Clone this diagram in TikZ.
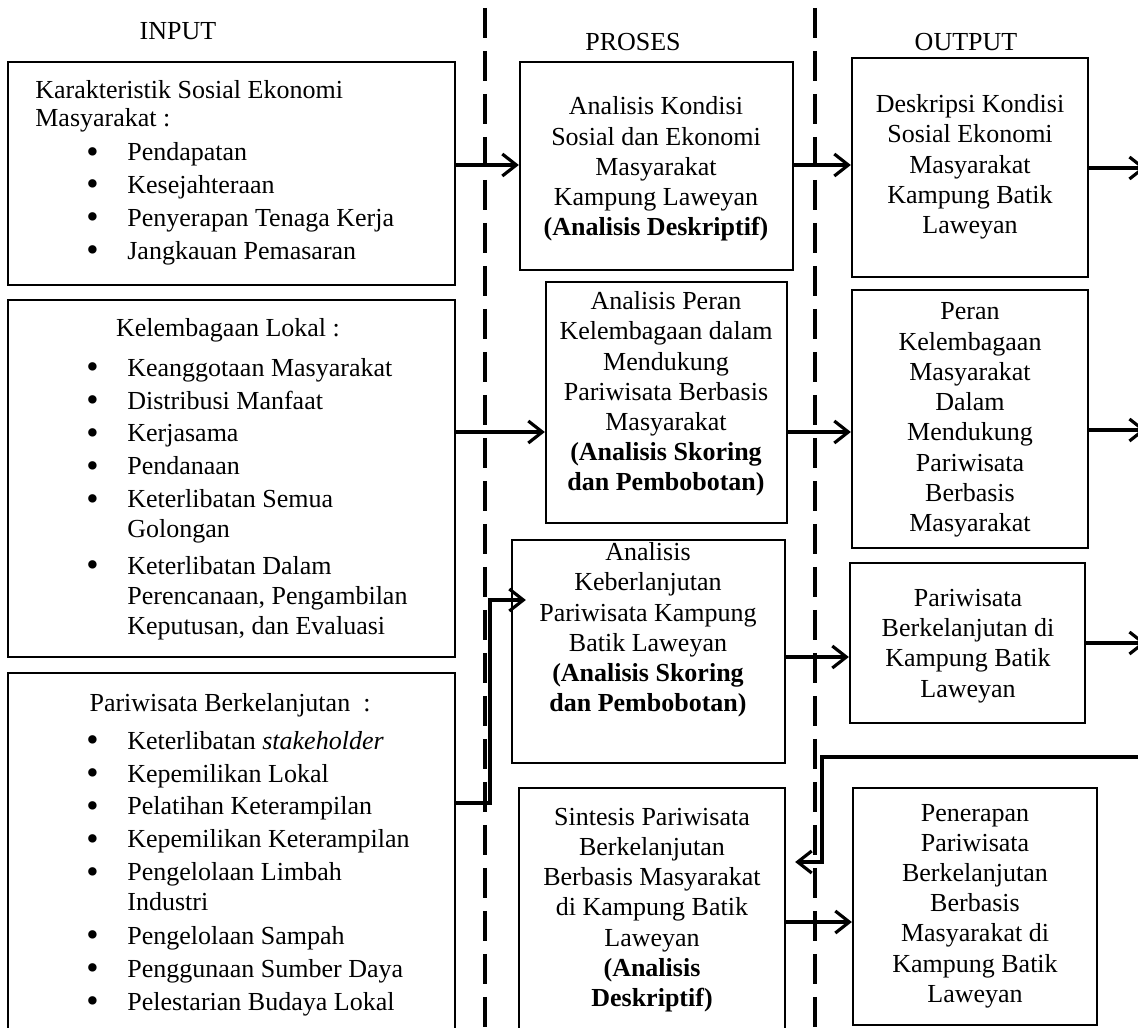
\documentclass[tikz,border=0pt]{standalone}
\usepackage{fontspec}
\setmainfont{Liberation Serif}
\usetikzlibrary{arrows.meta,fit}
\newcommand\itm[1]{\makebox[0.82cm][l]{\raisebox{-1.5pt}{\fontsize{20pt}{20pt}\selectfont\textbullet}}#1}
\newcommand\cnt[1]{\hspace*{0.82cm}#1}
\tikzset{
  >={Straight Barb[length=2.8mm,width=4.4mm]},
  box/.style={draw,line width=1.3pt,inner sep=0pt},
  txt/.style={align=center,inner sep=0pt,font=\fontsize{14.8pt}{17.2pt}\selectfont},
  boxtitle/.style={align=left,inner sep=0pt,anchor=base west,font=\fontsize{14.8pt}{16pt}\selectfont},
  lst/.style={align=left,inner sep=0pt,anchor=base west,font=\fontsize{14.8pt}{18.7pt}\selectfont},
  head/.style={inner sep=0pt,font=\fontsize{14.8pt}{17pt}\selectfont},
  flow/.style={->,line width=1.8pt},
  divider/.style={line width=2.2pt,dash pattern=on 0.6cm off 0.26cm},
}
\begin{document}
\begin{tikzpicture}[x=0.02cm,y=-0.02cm]
  \useasboundingbox (0,0) rectangle (1138,1027);
  % column headings
  \node[head] (hin) at (178,31) {INPUT};
  \node[head] (hpro) at (633,42) {PROSES};
  \node[head] (hout) at (966,42) {OUTPUT};
  \draw[divider] (485,8) -- (485,1030);
  \draw[divider] (815,8) -- (815,1030);
  % input (lists sit on the baseline of their last line)
  \node[box,fit={(8,62)(455,285)}] (kar) {};
  \node[box,fit={(8,300)(455,657)}] (lem) {};
  \node[box,fit={(8,673)(455,1045)}] (par) {};
  \node[boxtitle] (kart) at (35,127) {Karakteristik Sosial Ekonomi\\ Masyarakat :};
  \node[lst] (karl) at (86,259) {\itm{Pendapatan}\\ \itm{Kesejahteraan}\\
    \itm{Penyerapan Tenaga Kerja}\\ \itm{Jangkauan Pemasaran}};
  \node[txt] (lemt) at (228,330) {Kelembagaan Lokal :};
  \node[lst] (leml) at (86,634) {\itm{Keanggotaan Masyarakat}\\ \itm{Distribusi Manfaat}\\
    \itm{Kerjasama}\\ \itm{Pendanaan}\\ \itm{Keterlibatan Semua}\\[-0.06cm] \cnt{Golongan}\\[0.08cm]
    \itm{Keterlibatan Dalam}\\[-0.06cm] \cnt{Perencanaan, Pengambilan}\\[-0.06cm] \cnt{Keputusan, dan Evaluasi}};
  \node[txt] (part) at (230,705) {Pariwisata Berkelanjutan \ :};
  \node[lst] (parl) at (86,1010) {\itm{Keterlibatan \textit{stakeholder}}\\ \itm{Kepemilikan Lokal}\\
    \itm{Pelatihan Keterampilan}\\ \itm{Kepemilikan Keterampilan}\\ \itm{Pengelolaan Limbah}\\[-0.06cm]
    \cnt{Industri}\\[0.02cm] \itm{Pengelolaan Sampah}\\ \itm{Penggunaan Sumber Daya}\\ \itm{Pelestarian Budaya Lokal}};
  % proses
  \node[box,fit={(520,62)(793,270)}] (kon) {};
  \node[box,fit={(546,282)(787,523)}] (per) {};
  \node[box,fit={(512,540)(785,763)}] (lan) {};
  \node[box,fit={(519,788)(785,1045)}] (sin) {};
  \node[txt] (kont) at (656,169) {Analisis Kondisi\\ Sosial dan Ekonomi\\ Masyarakat\\ Kampung Laweyan\\ \textbf{(Analisis Deskriptif)}};
  \node[txt] (pert) at (666,394) {Analisis Peran\\ Kelembagaan dalam\\ Mendukung\\ Pariwisata Berbasis\\ Masyarakat\\ \textbf{(Analisis Skoring}\\ \textbf{dan Pembobotan)}};
  \node[txt] (lant) at (648,630) {Analisis\\ Keberlanjutan\\ Pariwisata Kampung\\ Batik Laweyan\\ \textbf{(Analisis Skoring}\\ \textbf{dan Pembobotan)}};
  \node[txt] (sint) at (652,910) {Sintesis Pariwisata\\ Berkelanjutan\\ Berbasis Masyarakat\\ di Kampung Batik\\ Laweyan\\ \textbf{(Analisis}\\ \textbf{Deskriptif)}};
  % output
  \node[box,fit={(852,58)(1088,277)}] (des) {};
  \node[box,fit={(852,290)(1088,548)}] (kel) {};
  \node[box,fit={(850,563)(1085,723)}] (ber) {};
  \node[box,fit={(853,788)(1097,1025)}] (pen) {};
  \node[txt] (dest) at (970,167) {Deskripsi Kondisi\\ Sosial Ekonomi\\ Masyarakat\\ Kampung Batik\\ Laweyan};
  \node[txt] (kelt) at (970,420) {Peran\\ Kelembagaan\\ Masyarakat\\ Dalam\\ Mendukung\\ Pariwisata\\ Berbasis\\ Masyarakat};
  \node[txt] (bert) at (968,646) {Pariwisata\\ Berkelanjutan di\\ Kampung Batik\\ Laweyan};
  \node[txt] (pent) at (975,906) {Penerapan\\ Pariwisata\\ Berkelanjutan\\ Berbasis\\ Masyarakat di\\ Kampung Batik\\ Laweyan};
  % rows of the connectors
  \coordinate (r1) at (0,165);
  \coordinate (r2) at (0,432);
  \coordinate (r3) at (0,600);
  \coordinate (r3b) at (0,657);
  \coordinate (r4) at (0,862);
  \coordinate (r4b) at (0,922);
  \coordinate (e1) at (1146,168);
  \coordinate (e2) at (1146,430);
  \coordinate (e3) at (1146,643);
  \coordinate (back) at (1146,757);
  \coordinate (elb) at (490,803);
  \coordinate (bend) at (822,757);
  \draw[flow] (kar.east |- r1) -- (kon.west |- r1);
  \draw[flow] (kon.east |- r1) -- (des.west |- r1);
  \draw[flow] (des.east |- e1) -- (e1);
  \draw[flow] (lem.east |- r2) -- (per.west |- r2);
  \draw[flow] (per.east |- r2) -- (kel.west |- r2);
  \draw[flow] (kel.east |- e2) -- (e2);
  \draw[flow,shorten >=-0.3cm] (par.east |- elb) -- (elb) |- (lan.west |- r3);
  \draw[flow] (lan.east |- r3b) -- (ber.west |- r3b);
  \draw[flow] (ber.east |- e3) -- (e3);
  \draw[flow,shorten >=0.18cm] (back) -- (bend) |- (sin.east |- r4);
  \draw[flow] (sin.east |- r4b) -- (pen.west |- r4b);
\end{tikzpicture}
\end{document}
